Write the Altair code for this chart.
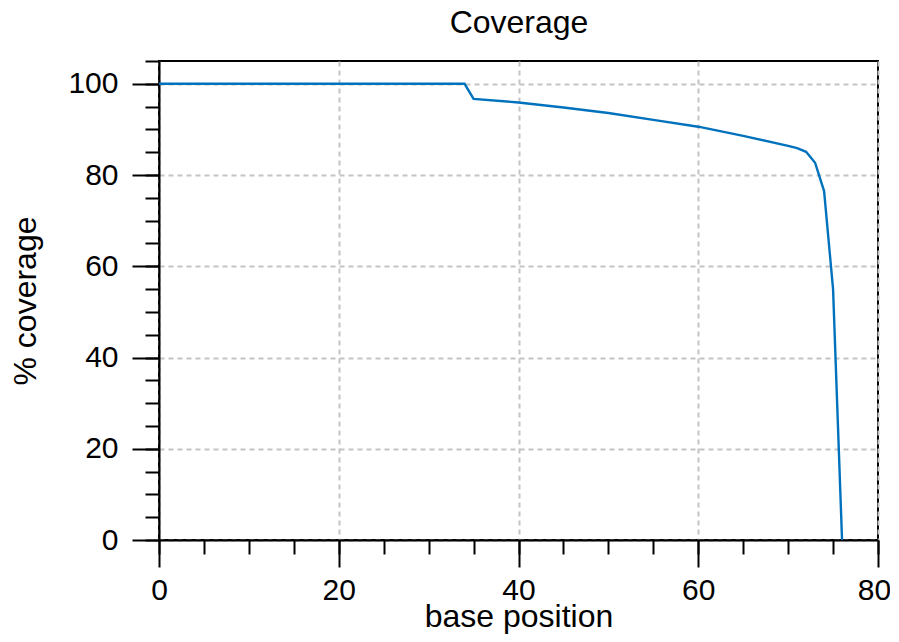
import altair as alt
import pandas as pd

# Values
positions = [0, 34, 35, 40, 45, 50, 55, 60, 65, 70, 71, 72, 73, 74, 75, 76]
coverage = [100, 100, 96.7, 95.9, 94.8, 93.6, 92.1, 90.6, 88.6, 86.4, 85.9, 85.1, 82.7, 76.5, 55.0, 0]

x_major = [0, 20, 40, 60, 80]
x_minor = list(range(0, 81, 5))
y_major = [0, 20, 40, 60, 80, 100]
y_minor = list(range(0, 106, 5))

chart_title = "Coverage"
x_title = "base position"
y_title = "% coverage"

df = pd.DataFrame({"pos": positions, "cov": coverage})

FONT = "Liberation Sans"
LFS = 30
TFS = 32

xs = alt.Scale(domain=[0, 80], nice=False, zero=False)
ys = alt.Scale(domain=[0, 105], nice=False, zero=False)

minor = alt.Chart(df).mark_line(opacity=0).encode(
    x=alt.X("pos:Q", scale=xs, axis=alt.Axis(
        orient="bottom", values=x_minor, tickSize=14, tickWidth=2, tickColor="black",
        labels=False, domain=False, grid=False, title=None)),
    y=alt.Y("cov:Q", scale=ys, axis=alt.Axis(
        orient="left", values=y_minor, tickSize=14, tickWidth=2, tickColor="black",
        labels=False, domain=False, grid=False, title=None)),
)

# layer only carrying the chart title on a top axis
top = alt.Chart(df).mark_line(opacity=0).encode(
    x=alt.X("pos:Q", scale=xs, axis=alt.Axis(
        orient="top", values=[], ticks=False, labels=False, domain=False, grid=False,
        title=chart_title, titleFont=FONT, titleFontSize=TFS, titleFontWeight="normal",
        titleColor="black", titleX=359.5, titleY=-29, titleBaseline="alphabetic",
        titleAlign="center")),
    y=alt.Y("cov:Q", scale=ys, axis=None),
)

line = alt.Chart(df).mark_line(color="#0072BD", strokeWidth=2.4).encode(
    x=alt.X("pos:Q", scale=xs, axis=alt.Axis(
        orient="bottom", values=x_major, tickSize=27, tickWidth=2, tickColor="black",
        domain=True, domainColor="black", domainWidth=2,
        grid=True, gridColor="#c4c4c4", gridDash=[5, 4], gridWidth=2,
        labelFont=FONT, labelFontSize=LFS, labelColor="black", labelPadding=8,
        labelFlush=False,
        labelOffset={"condition": {"test": "datum.value == 80", "value": -4}, "value": 0},
        title=x_title, titleFont=FONT, titleFontSize=TFS, titleFontWeight="normal",
        titleColor="black", titleX=359.5, titleY=86, titleBaseline="alphabetic",
        titleAlign="center")),
    y=alt.Y("cov:Q", scale=ys, axis=alt.Axis(
        orient="left", values=y_major, tickSize=27, tickWidth=2, tickColor="black",
        domain=True, domainColor="black", domainWidth=2,
        grid=True, gridColor="#c4c4c4", gridDash=[5, 4], gridWidth=2,
        labelFont=FONT, labelFontSize=LFS, labelColor="black", labelPadding=14,
        labelFlush=False,
        title=y_title, titleFont=FONT, titleFontSize=TFS, titleFontWeight="normal",
        titleColor="black", titleAngle=270, titleX=-124, titleY=239.5,
        titleBaseline="alphabetic", titleAlign="center")),
)

chart = alt.layer(minor, top, line).resolve_axis(x="independent", y="independent").properties(
    width=719,
    height=479,
    autosize=alt.AutoSizeParams(type="none"),
    padding={"left": 151, "top": 53, "right": 12, "bottom": 94},
).configure_view(stroke="black", strokeWidth=2)

chart.save("out.html", embed_options={"renderer": "svg", "actions": False})
